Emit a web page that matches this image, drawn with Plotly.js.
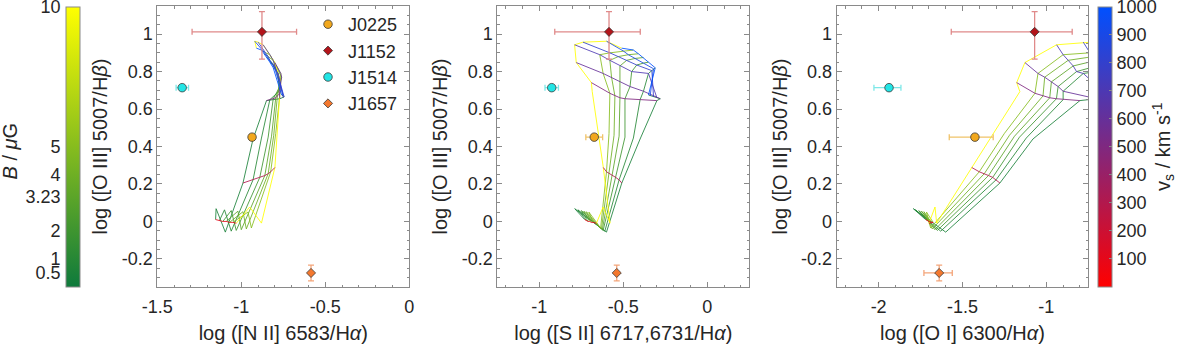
<!DOCTYPE html>
<html>
<head>
<meta charset="utf-8">
<script src="https://cdn.plot.ly/plotly-3.0.1.min.js"></script>
<style>
html, body {margin: 0; padding: 0; background: #fff;}
#myDiv {width: 1200px; height: 344px;}
</style>
</head>
<body>
<div id="myDiv"></div>
<script>
// shock model grid: rows = magnetic field B, columns = shock velocity v_s
let bValues = [0.5, 1, 2, 3.23, 4, 5, 10]
let vValues = [100, 150, 200, 300, 400, 500, 600, 700, 800, 900, 1000]
let vDrawn = [100, 300, 500, 600, 700, 800, 900, 1000]

// log([O III]/Hb), same for all three panels
let o3Grid = [
	[0.01, 0.068, -0.057, 0.205, 0.44, 0.645, 0.655, 0.66, 0.665, 0.67, 0.675],
	[0.005, 0.062, -0.052, 0.222, 0.445, 0.65, 0.695, 0.79, 0.805, 0.815, 0.82],
	[0.0, 0.058, -0.048, 0.235, 0.45, 0.655, 0.72, 0.80, 0.835, 0.845, 0.85],
	[0.0, 0.055, -0.044, 0.245, 0.455, 0.66, 0.745, 0.83, 0.86, 0.87, 0.875],
	[-0.005, 0.052, -0.04, 0.255, 0.46, 0.67, 0.77, 0.86, 0.88, 0.89, 0.895],
	[-0.005, 0.05, -0.035, 0.265, 0.47, 0.684, 0.79, 0.89, 0.90, 0.91, 0.915],
	[-0.01, 0.077, -0.009, 0.288, 0.693, 0.741, 0.848, 0.943, 0.957, 0.962, 0.925]
]
// log([N II]/Ha)
let n2Grid = [
	[-1.153, -1.15, -1.095, -0.99, -0.93, -0.85, -0.77, -0.75, -0.745, -0.75, -0.76],
	[-1.13, -1.10, -1.06, -0.93, -0.88, -0.83, -0.775, -0.78, -0.79, -0.80, -0.81],
	[-1.11, -1.06, -1.03, -0.89, -0.84, -0.81, -0.77, -0.79, -0.81, -0.82, -0.83],
	[-1.09, -1.02, -1.00, -0.86, -0.82, -0.795, -0.765, -0.80, -0.83, -0.84, -0.85],
	[-1.07, -0.99, -0.97, -0.84, -0.807, -0.785, -0.76, -0.81, -0.84, -0.855, -0.865],
	[-1.05, -0.96, -0.94, -0.825, -0.795, -0.77, -0.765, -0.83, -0.855, -0.87, -0.88],
	[-1.03, -0.95, -0.88, -0.80, -0.77, -0.765, -0.80, -0.87, -0.90, -0.92, -0.91]
]
// log([S II]/Ha)
let s2Grid = [
	[-0.73, -0.789, -0.60, -0.509, -0.40, -0.30, -0.28, -0.30, -0.32, -0.34, -0.35],
	[-0.72, -0.77, -0.61, -0.525, -0.44, -0.40, -0.38, -0.35, -0.33, -0.32, -0.31],
	[-0.71, -0.75, -0.62, -0.545, -0.49, -0.49, -0.46, -0.45, -0.42, -0.38, -0.35],
	[-0.70, -0.735, -0.625, -0.565, -0.525, -0.52, -0.52, -0.52, -0.48, -0.43, -0.38],
	[-0.69, -0.72, -0.63, -0.585, -0.555, -0.55, -0.57, -0.58, -0.53, -0.47, -0.41],
	[-0.68, -0.705, -0.635, -0.60, -0.585, -0.58, -0.62, -0.64, -0.58, -0.50, -0.44],
	[-0.66, -0.62, -0.579, -0.619, -0.685, -0.69, -0.78, -0.79, -0.74, -0.60, -0.51]
]
// log([O I]/Ha)
let o1Grid = [
	[-1.72, -1.793, -1.60, -1.277, -1.08, -0.80, -0.70, -0.62, -0.55, -0.48, -0.42],
	[-1.71, -1.78, -1.63, -1.30, -1.12, -0.90, -0.90, -0.78, -0.66, -0.54, -0.44],
	[-1.70, -1.76, -1.65, -1.32, -1.16, -0.94, -0.93, -0.82, -0.68, -0.56, -0.46],
	[-1.69, -1.745, -1.665, -1.345, -1.19, -0.98, -0.97, -0.84, -0.70, -0.58, -0.48],
	[-1.685, -1.73, -1.68, -1.37, -1.22, -1.02, -1.01, -0.87, -0.72, -0.60, -0.50],
	[-1.675, -1.715, -1.69, -1.40, -1.25, -1.068, -1.05, -0.90, -0.74, -0.62, -0.52],
	[-1.70, -1.664, -1.654, -1.445, -1.158, -1.177, -1.128, -0.939, -0.78, -0.66, -0.58]
]

// observed galaxies
let sources = ["J0225", "J1152", "J1514", "J1657"]
let o3 = [0.45, 1.012, 0.714, -0.275]
let o3ErrPlus = [0, 0.108, 0, 0.042]
let o3ErrMinus = [0, 0.146, 0, 0.042]
let n2 = [-0.936, -0.877, -1.352, -0.585]
let n2ErrPlus = [0, 0.206, 0.038, 0]
let n2ErrMinus = [0, 0.416, 0.036, 0]
let s2 = [-0.673, -0.585, -0.926, -0.539]
let s2ErrPlus = [0.05, 0.186, 0.04, 0]
let s2ErrMinus = [0.05, 0.323, 0.04, 0]
let o1 = [-1.426, -1.070, -1.938, -1.639]
let o1ErrPlus = [0.109, 0.224, 0.071, 0.078]
let o1ErrMinus = [0.153, 0.497, 0.09, 0.091]

let x1Ticks = [-1.5, -1, -0.5, 0]
let x2Ticks = [-1, -0.5, 0]
let x3Ticks = [-2, -1.5, -1]
let yTicks = [-0.2, 0, 0.2, 0.4, 0.6, 0.8, 1]
let bTicks = [0.5, 1, 2, 3.23, 4, 5, 10]
let vTicks = [100, 200, 300, 400, 500, 600, 700, 800, 900, 1000]

let bColorscale = [[0, "#0e7a3c"], [1, "#ffff00"]]
let vColorscale = [[0, "#ff0000"], [1, "#0050ff"]]
let srcSymbols = ["circle", "diamond", "circle", "diamond"]
let srcColors = ["#f2a81d", "#b3141a", "#22e5e5", "#f4782e"]
let errColors = ["#f0c36a", "#e08a8a", "#7ee8e8", "#f4a57a"]

function colorAt(scale, t){
	let a = scale[0][1], b = scale[1][1]
	let c = [1, 3, 5].map(i => Math.round(parseInt(a.substr(i, 2), 16) * (1 - t) + parseInt(b.substr(i, 2), 16) * t))
	return `rgb(${c[0]},${c[1]},${c[2]})`
}

let panels = [
	{grid: n2Grid, xa: "x", ya: "y", obs: n2, errP: n2ErrPlus, errM: n2ErrMinus},
	{grid: s2Grid, xa: "x2", ya: "y2", obs: s2, errP: s2ErrPlus, errM: s2ErrMinus},
	{grid: o1Grid, xa: "x3", ya: "y3", obs: o1, errP: o1ErrPlus, errM: o1ErrMinus},
]

let data = []
panels.forEach((p, pi) => {
	// constant B lines
	for (let b = 0; b < bValues.length; b++){
		data.push({
			x: p.grid[b], y: o3Grid[b], xaxis: p.xa, yaxis: p.ya,
			mode: "lines", line: {color: colorAt(bColorscale, bValues[b] / 10), width: 1},
			opacity: 0.85, showlegend: false, hoverinfo: "skip"
		})
	}
	// constant v_s lines
	vDrawn.forEach(v => {
		let j = vValues.indexOf(v)
		data.push({
			x: p.grid.map(r => r[j]), y: o3Grid.map(r => r[j]), xaxis: p.xa, yaxis: p.ya,
			mode: "lines", line: {color: colorAt(vColorscale, v / 1000), width: 1},
			opacity: 0.85, showlegend: false, hoverinfo: "skip"
		})
	})
	// galaxies
	for (let s = 0; s < sources.length; s++){
		data.push({
			x: [p.obs[s]], y: [o3[s]], xaxis: p.xa, yaxis: p.ya,
			name: sources[s], legendgroup: sources[s], showlegend: pi == 0,
			mode: "markers", type: "scatter",
			marker: {symbol: srcSymbols[s], color: srcColors[s], size: srcSymbols[s] == "circle" ? 8.5 : 7,
				line: {color: "#3a3a3a", width: 0.8}},
			error_x: {type: "data", symmetric: false, array: [p.errP[s]], arrayminus: [p.errM[s]],
				visible: p.errP[s] > 0, color: errColors[s], thickness: 1.3, width: 3},
			error_y: {type: "data", symmetric: false, array: [o3ErrPlus[s]], arrayminus: [o3ErrMinus[s]],
				visible: o3ErrPlus[s] > 0, color: errColors[s], thickness: 1.3, width: 3},
		})
	}
})

// colour bars
data.push({
	x: [null], y: [null], xaxis: "x4", yaxis: "y4", mode: "markers", showlegend: false, hoverinfo: "skip",
	marker: {color: [0], cmin: 0, cmax: 10, colorscale: bColorscale, showscale: true,
		colorbar: {x: 65.5 / 1200, xanchor: "left", xpad: 0, ypad: 0, y: 337.3 / 344, yanchor: "top",
			len: 280, lenmode: "pixels", thickness: 14, outlinecolor: "#8a8a8a", outlinewidth: 1,
			ticks: "", showticklabels: false}}
})
data.push({
	x: [null], y: [null], mode: "markers", showlegend: false, hoverinfo: "skip",
	marker: {color: [0], cmin: 0, cmax: 1000, colorscale: vColorscale, showscale: true,
		colorbar: {x: 1098.3 / 1200, xanchor: "left", xpad: 0, ypad: 0, y: 337.3 / 344, yanchor: "top",
			len: 280, lenmode: "pixels", thickness: 14, outlinecolor: "#8a8a8a", outlinewidth: 1,
			tickvals: vTicks, ticktext: vTicks.map(String), ticks: "inside", ticklen: 3, tickcolor: "#8a8a8a",
			ticklabeloverflow: "allow", tickfont: {size: 18, color: "#262626"},
			title: {text: "v<sub>s</sub> / km s<sup>-1</sup>", side: "right", font: {size: 20, color: "#262626"}}}}
})

let frame = {
	showline: true, mirror: "allticks", linecolor: "#8a8a8a", linewidth: 1,
	ticks: "inside", ticklen: 5, tickcolor: "#8a8a8a", showgrid: false, zeroline: false,
	tickfont: {size: 18, color: "#262626"}, automargin: false, ticklabeloverflow: "allow"
}
let yTitle = {text: "log ([O III] 5007/H<i>β</i>)", font: {size: 20, color: "#262626"}}
let yFrame = Object.assign({}, frame, {
	domain: [57 / 344, 338 / 344], range: [-0.35, 1.15],
	tickvals: yTicks, ticktext: yTicks.map(String), title: yTitle,
	minor: {ticks: "inside", ticklen: 2.5, tickcolor: "#8a8a8a", tickmode: "linear", tick0: 0, dtick: 0.05}
})
function xFrame(dom, rng, ticks, title){
	return Object.assign({}, frame, {
		domain: dom, range: rng, tickvals: ticks, ticktext: ticks.map(String), ticklabelstandoff: 3,
		title: {text: title, font: {size: 20, color: "#262626"}},
		minor: {ticks: "inside", ticklen: 2.5, tickcolor: "#8a8a8a", tickmode: "linear", tick0: 0, dtick: 0.1}
	})
}

let layout = {
	width: 1200, height: 344,
	margin: {l: 0, r: 0, t: 0, b: 0},
	paper_bgcolor: "#fff", plot_bgcolor: "#fff",
	font: {family: "Liberation Sans, Arial, sans-serif", size: 18, color: "#262626"},
	xaxis: Object.assign(xFrame([157.3 / 1200, 409.3 / 1200], [-1.5, 0], x1Ticks, "log ([N II] 6583/H<i>α</i>)"), {anchor: "y"}),
	xaxis2: Object.assign(xFrame([497.3 / 1200, 749.3 / 1200], [-1.25, 0.25], x2Ticks, "log ([S II] 6717,6731/H<i>α</i>)"), {anchor: "y2"}),
	xaxis3: Object.assign(xFrame([836.7 / 1200, 1088.3 / 1200], [-2.25, -0.75], x3Ticks, "log ([O I] 6300/H<i>α</i>)"), {anchor: "y3"}),
	yaxis: Object.assign({}, yFrame, {anchor: "x"}),
	yaxis2: Object.assign({}, yFrame, {anchor: "x2"}),
	yaxis3: Object.assign({}, yFrame, {anchor: "x3"}),
	// axis carrying the B colour bar labels
	xaxis4: {domain: [65.5 / 1200, 79.5 / 1200], visible: false, anchor: "y4", range: [0, 1]},
	yaxis4: {domain: [57.3 / 344, 337.3 / 344], range: [0, 10], anchor: "x4", side: "left",
		tickvals: bTicks, ticktext: bTicks.map(String), ticks: "inside", ticklen: 4, tickcolor: "#8a8a8a",
		showline: false, showgrid: false, zeroline: false, automargin: false, ticklabeloverflow: "allow",
		ticklabelstandoff: 4, tickfont: {size: 18, color: "#262626"}},
	annotations: [{
		text: "<i>B</i> / <i>μ</i>G", textangle: -90, showarrow: false,
		xref: "paper", yref: "paper", x: 9.5 / 1200, y: (344 - 151) / 344, xanchor: "center", yanchor: "middle",
		font: {size: 20, color: "#262626"}
	}],
	showlegend: true,
	legend: {x: 308 / 1200, y: 338 / 344, xanchor: "left", yanchor: "top", bgcolor: "rgba(0,0,0,0)",
		font: {size: 18, color: "#262626"}, tracegroupgap: 0},
}

Plotly.newPlot("myDiv", data, layout, {displayModeBar: false, staticPlot: true})
</script>
</body>
</html>
